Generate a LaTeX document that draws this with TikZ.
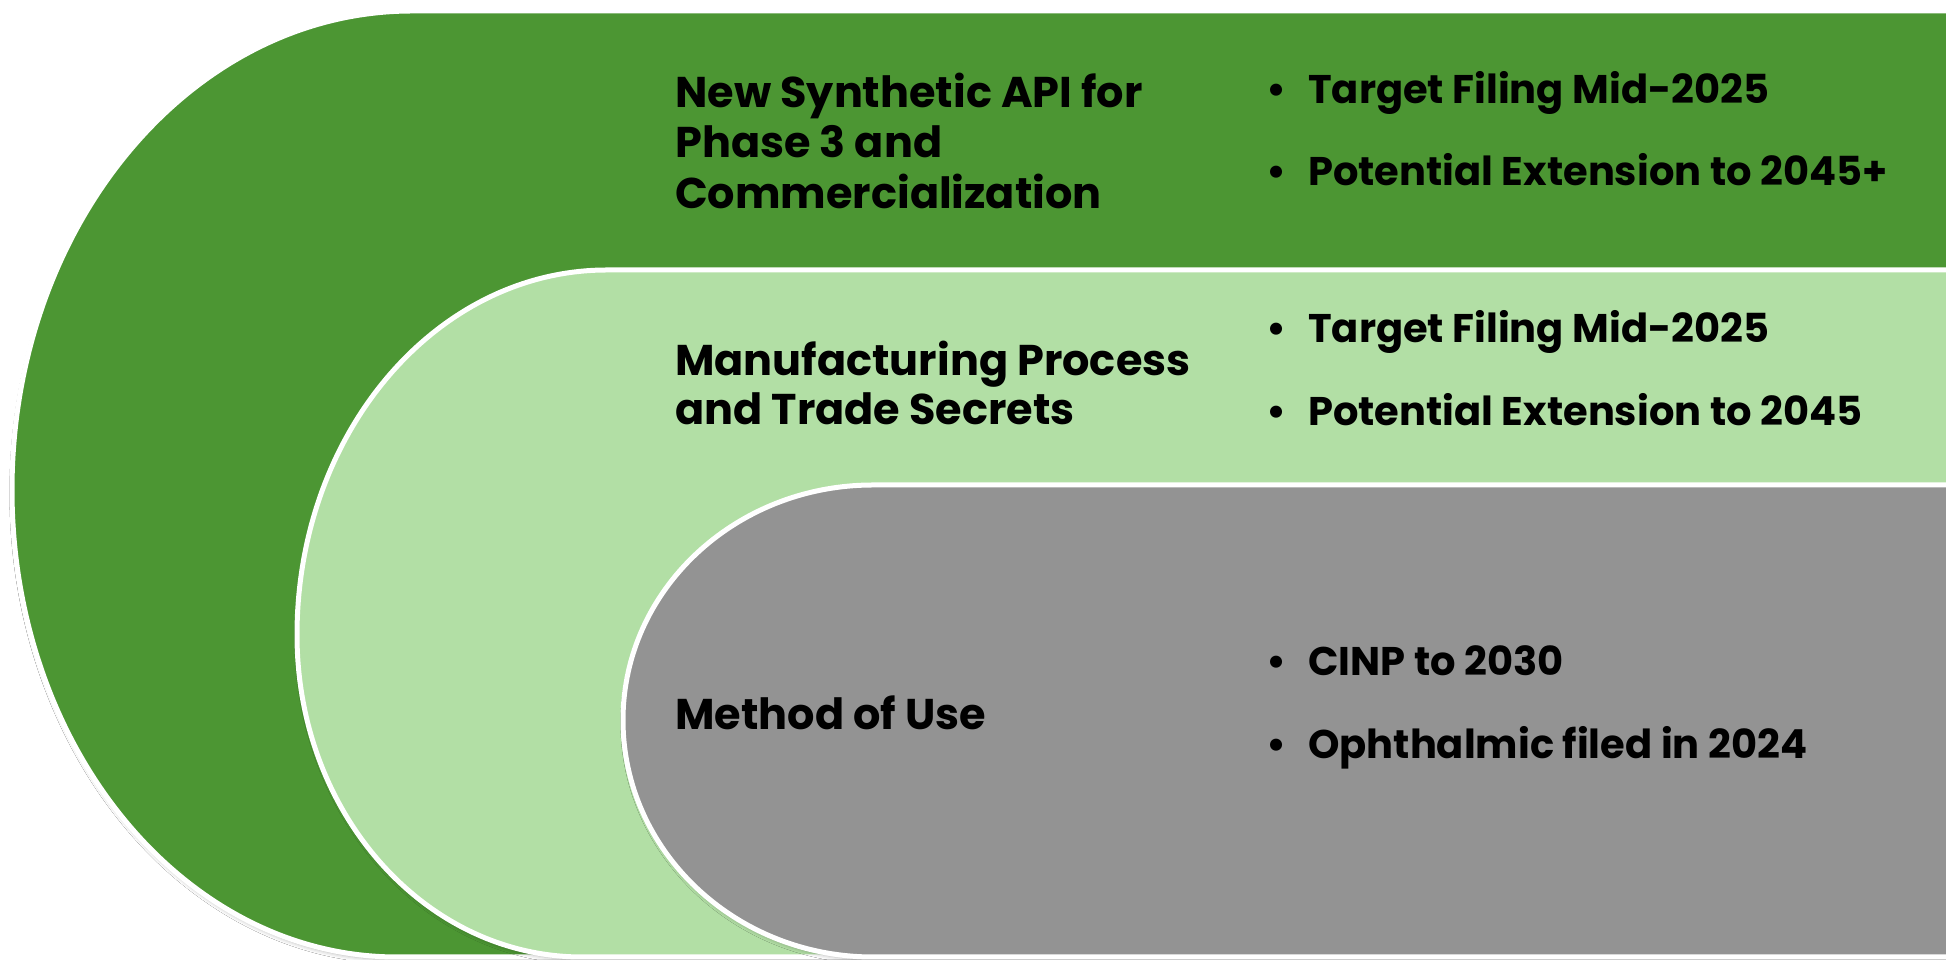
\documentclass[tikz,border=0pt]{standalone}
\usepackage{fontspec}
\setmainfont{Poppins}
\usetikzlibrary{shadows.blur}
\definecolor{leafgreen}{RGB}{76,150,51}
\definecolor{palegreen}{RGB}{178,223,165}
\definecolor{midgray}{RGB}{147,147,147}
\begin{document}
\begin{tikzpicture}[x=1pt,y=1pt,
  band/.style={draw=white, line width=5pt, line join=round,
    blur shadow={shadow xshift=1.5pt, shadow yshift=-3pt, shadow blur radius=4pt, shadow opacity=30}},
  head/.style={anchor=base west, inner sep=0pt, font=\fontsize{43}{50}\selectfont\bfseries},
  item/.style={anchor=base west, inner sep=0pt, font=\fontsize{40}{48}\selectfont\bfseries}]
\useasboundingbox (0,0) rectangle (1946,960);
\clip (0,0) rectangle (1946,960);
\fill[white] (0,0) rectangle (1946,960);

% outer band
\path[band, fill=leafgreen] (1970,949) -- (412,949)
  arc[start angle=90, end angle=180, x radius=400, y radius=479]
  arc[start angle=180, end angle=270, x radius=385, y radius=467]
  -- (1970,3) -- cycle;
% middle band
\path[band, fill=palegreen] (1970,690) -- (607,690)
  arc[start angle=90, end angle=180, x radius=310, y radius=365]
  arc[start angle=180, end angle=270, x radius=285, y radius=322]
  -- (1970,3) -- cycle;
% inner band
\path[band, fill=midgray] (1970,475) -- (873,475)
  arc[start angle=90, end angle=180, x radius=250, y radius=235]
  arc[start angle=180, end angle=270, x radius=250, y radius=237]
  -- (1970,3) -- cycle;

% headings
\node[head] (h1a) at (675,852) {New Synthetic API for};
\node[head] (h1b) at (675,802) {Phase 3 and};
\node[head] (h1c) at (675,751) {Commercialization};
\node[head] (h2a) at (675,584) {Manufacturing Process};
\node[head] (h2b) at (675,535) {and Trade Secrets};
\node[head] (h3a) at (675,230) {Method of Use};

% bullet items
\node[item] (b1a) at (1266,856) {\makebox[42pt][l]{\textbullet}Target Filing Mid-2025};
\node[item] (b1b) at (1266,774) {\makebox[42pt][l]{\textbullet}Potential Extension to 2045+};
\node[item] (b2a) at (1266,617) {\makebox[42pt][l]{\textbullet}Target Filing Mid-2025};
\node[item] (b2b) at (1266,534) {\makebox[42pt][l]{\textbullet}Potential Extension to 2045};
\node[item] (b3a) at (1266,284) {\makebox[42pt][l]{\textbullet}CINP to 2030};
\node[item] (b3b) at (1266,201) {\makebox[42pt][l]{\textbullet}Ophthalmic filed in 2024};
\end{tikzpicture}
\end{document}
